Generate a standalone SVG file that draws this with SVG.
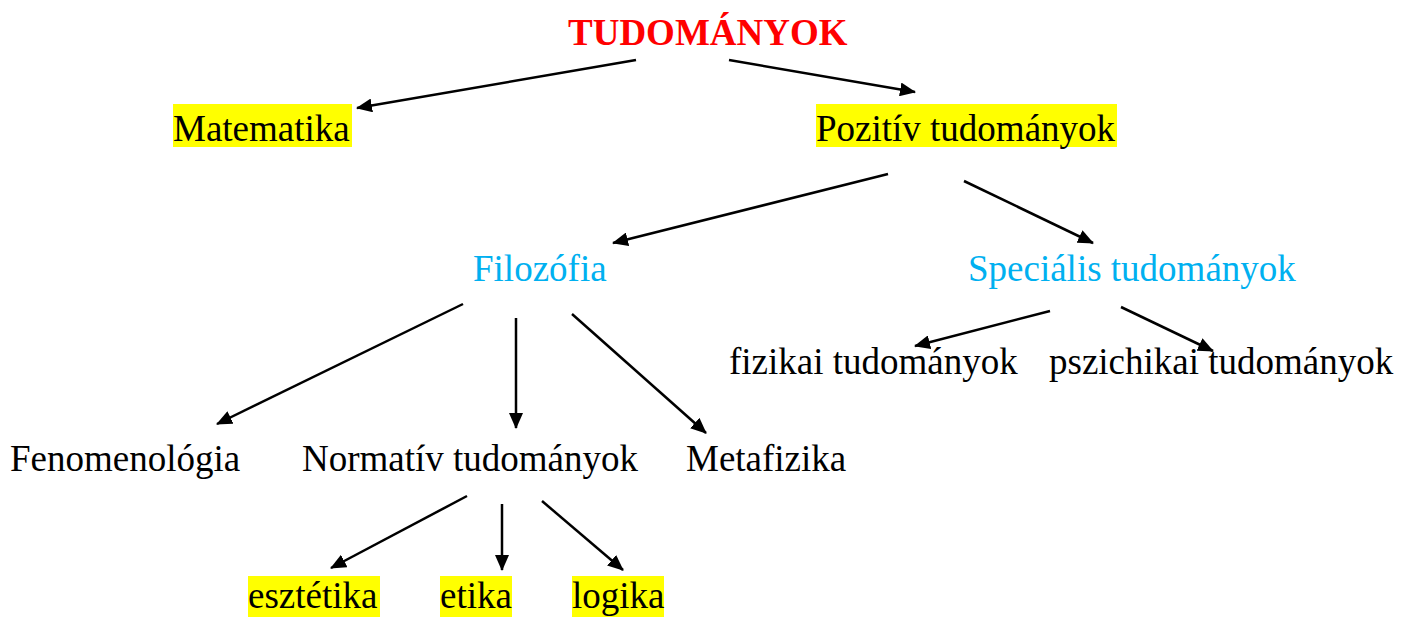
<svg xmlns="http://www.w3.org/2000/svg" width="1414" height="617" viewBox="0 0 1414 617">
<style>
text{font-family:"Liberation Serif","Times New Roman",serif;font-size:37px;fill:#000}
.title{font-weight:bold;fill:#FF0000}
.blue{fill:#00B0F0}
.hl{fill:#FFFF00}
.conn line{stroke:#000;stroke-width:2.5;marker-end:url(#ah)}
</style>
<defs>
<marker id="ah" markerUnits="userSpaceOnUse" markerWidth="16" markerHeight="14" refX="15" refY="7" orient="auto">
<path d="M0,0 L16,7 L0,14 Z" fill="#000"/>
</marker>
</defs>
<rect width="1414" height="617" fill="#fff"/>
<g id="n-tudomanyok"><text class="title" x="568" y="45">TUDOMÁNYOK</text></g>
<g id="n-matematika"><rect class="hl" x="173" y="104" width="179" height="43"/><text x="173" y="141">Matematika</text></g>
<g id="n-pozitiv"><rect class="hl" x="816" y="104" width="301" height="43"/><text x="816" y="141">Pozitív tudományok</text></g>
<g id="n-filozofia"><text class="blue" x="473" y="281">Filozófia</text></g>
<g id="n-specialis"><text class="blue" x="968" y="281">Speciális tudományok</text></g>
<g id="n-fizikai"><text x="729" y="374">fizikai tudományok</text></g>
<g id="n-pszichikai"><text x="1049" y="374">pszichikai tudományok</text></g>
<g id="n-fenomenologia"><text x="10" y="471">Fenomenológia</text></g>
<g id="n-normativ"><text x="302" y="471">Normatív tudományok</text></g>
<g id="n-metafizika"><text x="686" y="471">Metafizika</text></g>
<g id="n-esztetika"><rect class="hl" x="248" y="576" width="132" height="41"/><text x="248" y="608">esztétika</text></g>
<g id="n-etika"><rect class="hl" x="440" y="576" width="72" height="41"/><text x="440" y="608">etika</text></g>
<g id="n-logika"><rect class="hl" x="572" y="576" width="92" height="41"/><text x="572" y="608">logika</text></g>
<g id="connectors" class="conn">
<line x1="636" y1="60" x2="357" y2="108"/>
<line x1="729" y1="60" x2="915" y2="92"/>
<line x1="888" y1="174" x2="613" y2="243"/>
<line x1="964" y1="181" x2="1093" y2="243"/>
<line x1="463" y1="304" x2="217" y2="424"/>
<line x1="516" y1="318" x2="516" y2="428"/>
<line x1="572" y1="314" x2="706" y2="433"/>
<line x1="1050" y1="311" x2="915" y2="346"/>
<line x1="1121" y1="307" x2="1213" y2="351"/>
<line x1="467" y1="496" x2="331" y2="568"/>
<line x1="502" y1="504" x2="502" y2="570"/>
<line x1="542" y1="501" x2="623" y2="570"/>
</g>
</svg>
